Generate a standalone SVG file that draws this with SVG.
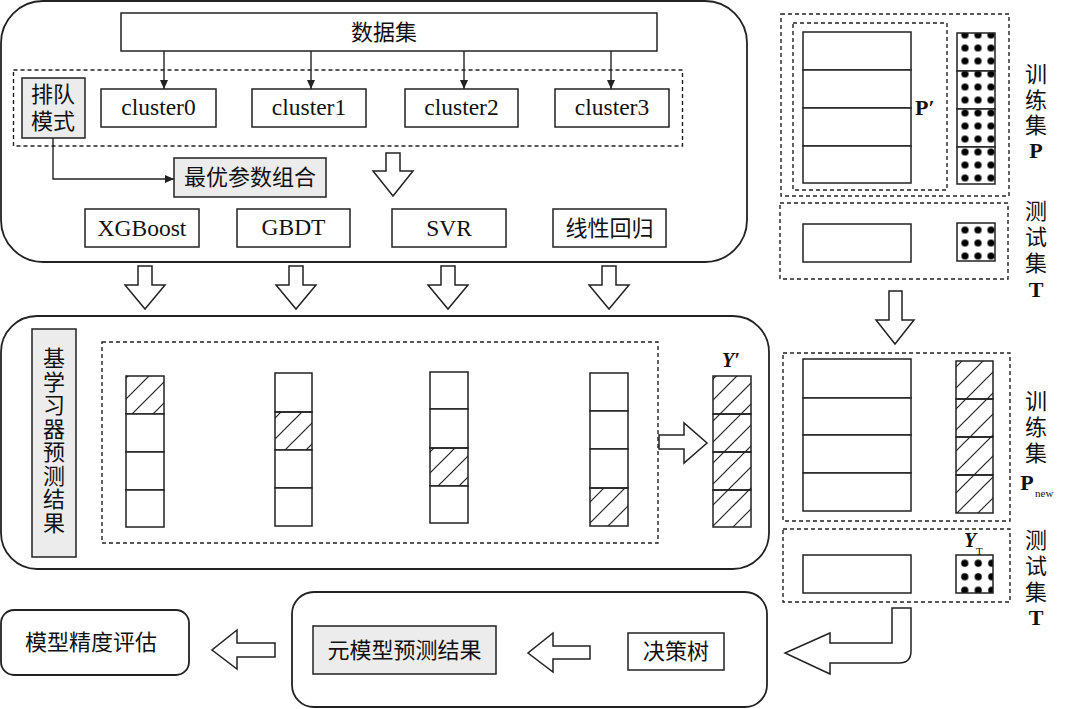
<svg xmlns="http://www.w3.org/2000/svg" width="1080" height="709" viewBox="0 0 1080 709">
<style>
.box{fill:#fff;stroke:#222;stroke-width:1.5}
.gray{fill:#ececec;stroke:#222;stroke-width:1.5}
.panel{fill:#fff;stroke:#222;stroke-width:1.8}
.dash{fill:none;stroke:#222;stroke-width:1.4;stroke-dasharray:4 3}
.cell{fill:#fff;stroke:#222;stroke-width:1.5}
.hatch{fill:url(#hatch);stroke:#222;stroke-width:1.5}
.hollow{fill:#fff;stroke:#222;stroke-width:1.5;stroke-linejoin:miter}
.ln{fill:none;stroke:#222;stroke-width:1.4}
text{font-family:"Liberation Serif","Noto Sans CJK SC",serif;fill:#111}
.t{font-size:22px;text-anchor:middle;dominant-baseline:central}
.l{font-size:23.5px}
.b{font-weight:bold}
</style>
<defs>
<pattern id="hatch" patternUnits="userSpaceOnUse" width="21" height="21">
<path d="M0,21 L21,0 M-3,3 L3,-3 M18,24 L24,18" stroke="#222" stroke-width="1.2"/>
</pattern>
<pattern id="dotsA" patternUnits="userSpaceOnUse" x="958.5" y="28.5" width="13" height="13">
<rect width="13" height="13" fill="#fff"/>
<circle cx="6.5" cy="6.5" r="3.6" fill="#000"/>
</pattern>
<pattern id="dotsB" patternUnits="userSpaceOnUse" x="958" y="556.5" width="13.5" height="13.5">
<rect width="13.5" height="13.5" fill="#fff"/>
<circle cx="6.75" cy="6.75" r="3.6" fill="#000"/>
</pattern>
<marker id="ah" markerWidth="10" markerHeight="10" refX="9" refY="5" orient="auto" markerUnits="userSpaceOnUse">
<path d="M0,1 L9,5 L0,9 Z" fill="#222"/>
</marker>
</defs>

<!-- Panels -->
<g id="panel-top"><rect class="panel" x="1" y="1" width="746" height="261" rx="42"/></g>
<g id="panel-mid"><rect class="panel" x="1" y="316" width="768" height="253" rx="36"/></g>
<g id="panel-bottom"><rect class="panel" x="292" y="592" width="475" height="115" rx="22"/></g>

<!-- Top panel nodes -->
<g id="dataset"><rect class="box" x="121" y="13" width="536" height="38"/><text class="t" x="384" y="32">数据集</text></g>
<g id="cluster-group"><rect class="dash" x="13.5" y="70" width="669" height="76"/></g>
<g id="queue-mode"><rect class="gray" x="22" y="78" width="63" height="60"/>
<text class="t" x="53" y="94">排队</text><text class="t" x="53" y="121">模式</text></g>
<g id="cluster0"><rect class="box" x="101" y="89" width="115" height="38"/><text class="t l" x="158.5" y="107">cluster0</text></g>
<g id="cluster1"><rect class="box" x="252" y="89" width="114" height="38"/><text class="t l" x="309" y="107">cluster1</text></g>
<g id="cluster2"><rect class="box" x="405" y="89" width="113" height="38"/><text class="t l" x="461.5" y="107">cluster2</text></g>
<g id="cluster3"><rect class="box" x="555" y="89" width="114" height="38"/><text class="t l" x="612" y="107">cluster3</text></g>
<g id="best-params"><rect class="gray" x="174" y="158" width="152" height="39"/><text class="t" x="250" y="177.5">最优参数组合</text></g>
<g id="xgboost"><rect class="box" x="85" y="209" width="114" height="38"/><text class="t l" x="142" y="228">XGBoost</text></g>
<g id="gbdt"><rect class="box" x="237" y="209" width="113" height="38"/><text class="t l" x="293.5" y="227">GBDT</text></g>
<g id="svr"><rect class="box" x="392" y="209" width="114" height="38"/><text class="t l" x="449" y="228">SVR</text></g>
<g id="linear"><rect class="box" x="553" y="209" width="113" height="38"/><text class="t" x="609.5" y="228">线性回归</text></g>

<!-- Middle panel -->
<g id="base-label"><rect class="gray" x="32" y="329" width="44" height="228"/>
<text class="t" x="54"><tspan x="54" y="358">基</tspan><tspan x="54" y="381.5">学</tspan><tspan x="54" y="405">习</tspan><tspan x="54" y="428.5">器</tspan><tspan x="54" y="452">预</tspan><tspan x="54" y="475.5">测</tspan><tspan x="54" y="499">结</tspan><tspan x="54" y="522.5">果</tspan></text></g>
<g id="base-preds"><rect class="dash" x="102" y="342" width="556" height="201"/></g>
<g id="col1"><rect class="hatch" x="126" y="376" width="38" height="38"/><rect class="cell" x="126" y="414" width="38" height="38"/><rect class="cell" x="126" y="452" width="38" height="38"/><rect class="cell" x="126" y="490" width="38" height="37"/></g>
<g id="col2"><rect class="cell" x="275" y="373" width="37" height="39"/><rect class="hatch" x="275" y="412" width="37" height="38"/><rect class="cell" x="275" y="450" width="37" height="38"/><rect class="cell" x="275" y="488" width="37" height="38"/></g>
<g id="col3"><rect class="cell" x="430" y="372" width="38" height="37"/><rect class="cell" x="430" y="409" width="38" height="39"/><rect class="hatch" x="430" y="448" width="38" height="38"/><rect class="cell" x="430" y="486" width="38" height="37"/></g>
<g id="col4"><rect class="cell" x="590" y="373" width="38" height="38"/><rect class="cell" x="590" y="411" width="38" height="38"/><rect class="cell" x="590" y="449" width="38" height="39"/><rect class="hatch" x="590" y="488" width="38" height="38"/></g>
<g id="y-prime"><rect class="hatch" x="713" y="376" width="38" height="38"/><rect class="hatch" x="713" y="414" width="38" height="38"/><rect class="hatch" x="713" y="452" width="38" height="38"/><rect class="hatch" x="713" y="490" width="38" height="37"/>
<text x="731" y="367" text-anchor="middle" font-size="20" font-weight="bold" font-style="italic">Y′</text></g>

<!-- Right: training set P / test set T -->
<g id="train-p"><rect class="dash" x="781" y="14" width="228" height="182"/><rect class="dash" x="793" y="23" width="154" height="167"/>
<rect class="cell" x="803" y="32" width="108" height="38"/><rect class="cell" x="803" y="70" width="108" height="38"/><rect class="cell" x="803" y="108" width="108" height="38"/><rect class="cell" x="803" y="146" width="108" height="37"/>
<text x="915" y="115" font-size="22" font-weight="bold">P′</text>
<rect x="957" y="33" width="38" height="38" fill="url(#dotsA)" stroke="#222" stroke-width="1.5"/><rect x="957" y="71" width="38" height="38" fill="url(#dotsA)" stroke="#222" stroke-width="1.5"/><rect x="957" y="109" width="38" height="38" fill="url(#dotsA)" stroke="#222" stroke-width="1.5"/><rect x="957" y="147" width="38" height="37" fill="url(#dotsA)" stroke="#222" stroke-width="1.5"/>
<text class="t" x="1036"><tspan x="1036" y="74">训</tspan><tspan x="1036" y="100">练</tspan><tspan x="1036" y="125">集</tspan></text>
<text x="1036" y="158" text-anchor="middle" font-size="22" font-weight="bold">P</text></g>
<g id="test-t"><rect class="dash" x="780" y="203" width="228" height="76"/>
<rect class="cell" x="803" y="224" width="108" height="38"/>
<rect x="957" y="223" width="38" height="38" fill="url(#dotsA)" stroke="#222" stroke-width="1.5"/>
<text class="t" x="1036"><tspan x="1036" y="211">测</tspan><tspan x="1036" y="237">试</tspan><tspan x="1036" y="263">集</tspan></text>
<text x="1036" y="297" text-anchor="middle" font-size="22" font-weight="bold">T</text></g>

<g id="train-pnew"><rect class="dash" x="783" y="353" width="227" height="168"/>
<rect class="cell" x="803" y="359" width="108" height="39"/><rect class="cell" x="803" y="398" width="108" height="37"/><rect class="cell" x="803" y="435" width="108" height="38"/><rect class="cell" x="803" y="473" width="108" height="38"/>
<rect class="hatch" x="956" y="361" width="37" height="38"/><rect class="hatch" x="956" y="399" width="37" height="38"/><rect class="hatch" x="956" y="437" width="37" height="38"/><rect class="hatch" x="956" y="475" width="37" height="38"/>
<text class="t" x="1036"><tspan x="1036" y="401">训</tspan><tspan x="1036" y="427">练</tspan><tspan x="1036" y="453">集</tspan></text>
<text x="1027" y="490" text-anchor="middle" font-size="22" font-weight="bold">P</text>
<text x="1035" y="497" font-size="11">new</text></g>
<g id="test-t2"><rect class="dash" x="783" y="529" width="227" height="73"/>
<rect class="cell" x="803" y="555" width="108" height="38"/>
<rect x="956" y="555" width="37" height="38" fill="url(#dotsB)" stroke="#222" stroke-width="1.5"/>
<text x="964" y="547" font-size="20" font-weight="bold" font-style="italic">Y</text>
<text x="976" y="555" font-size="11">T</text>
<text class="t" x="1036"><tspan x="1036" y="540">测</tspan><tspan x="1036" y="566">试</tspan><tspan x="1036" y="592">集</tspan></text>
<text x="1036" y="625" text-anchor="middle" font-size="22" font-weight="bold">T</text></g>

<!-- Bottom -->
<g id="accuracy"><rect class="panel" x="1" y="610" width="188" height="65" rx="13"/><text class="t" x="91" y="642">模型精度评估</text></g>
<g id="meta-result"><rect class="gray" x="313" y="626" width="183" height="48"/><text class="t" x="404.5" y="650">元模型预测结果</text></g>
<g id="decision-tree"><rect class="box" x="628" y="633" width="96" height="37"/><text class="t" x="676" y="651.5">决策树</text></g>

<!-- Connectors -->
<g id="connectors">
<line class="ln" x1="164" y1="51" x2="164" y2="89" marker-end="url(#ah)"/>
<line class="ln" x1="311" y1="51" x2="311" y2="89" marker-end="url(#ah)"/>
<line class="ln" x1="464" y1="51" x2="464" y2="89" marker-end="url(#ah)"/>
<line class="ln" x1="611" y1="51" x2="611" y2="89" marker-end="url(#ah)"/>
<polyline class="ln" points="53,138 53,179 174,179" marker-end="url(#ah)"/>
<polygon class="hollow" points="386,153 400,153 400,171 413,171 393,196 373,171 386,171"/>
<polygon class="hollow" points="138,266 152,266 152,285 165,285 145,309 125,285 138,285"/>
<polygon class="hollow" points="289,266 303,266 303,285 316,285 296,309 276,285 289,285"/>
<polygon class="hollow" points="441,266 455,266 455,285 468,285 448,309 428,285 441,285"/>
<polygon class="hollow" points="602,266 616,266 616,285 629,285 609,309 589,285 602,285"/>
<polygon class="hollow" points="659,435 684,435 684,423 707,443 684,463 684,449 659,449"/>
<polygon class="hollow" points="889,291 902,291 902,320 914,320 895,344 876,320 889,320"/>
<path class="hollow" d="M892,608 L911,608 L911,651 Q911,663 899,663 L830,663 L830,674 L785,653 L830,633 L830,643 L892,643 Z"/>
<polygon class="hollow" points="590,646 590,659 553,659 553,672 528,653 553,633 553,646"/>
<polygon class="hollow" points="275,643 275,657 237,657 237,669 212,650 237,630 237,643"/>
</g>
</svg>
